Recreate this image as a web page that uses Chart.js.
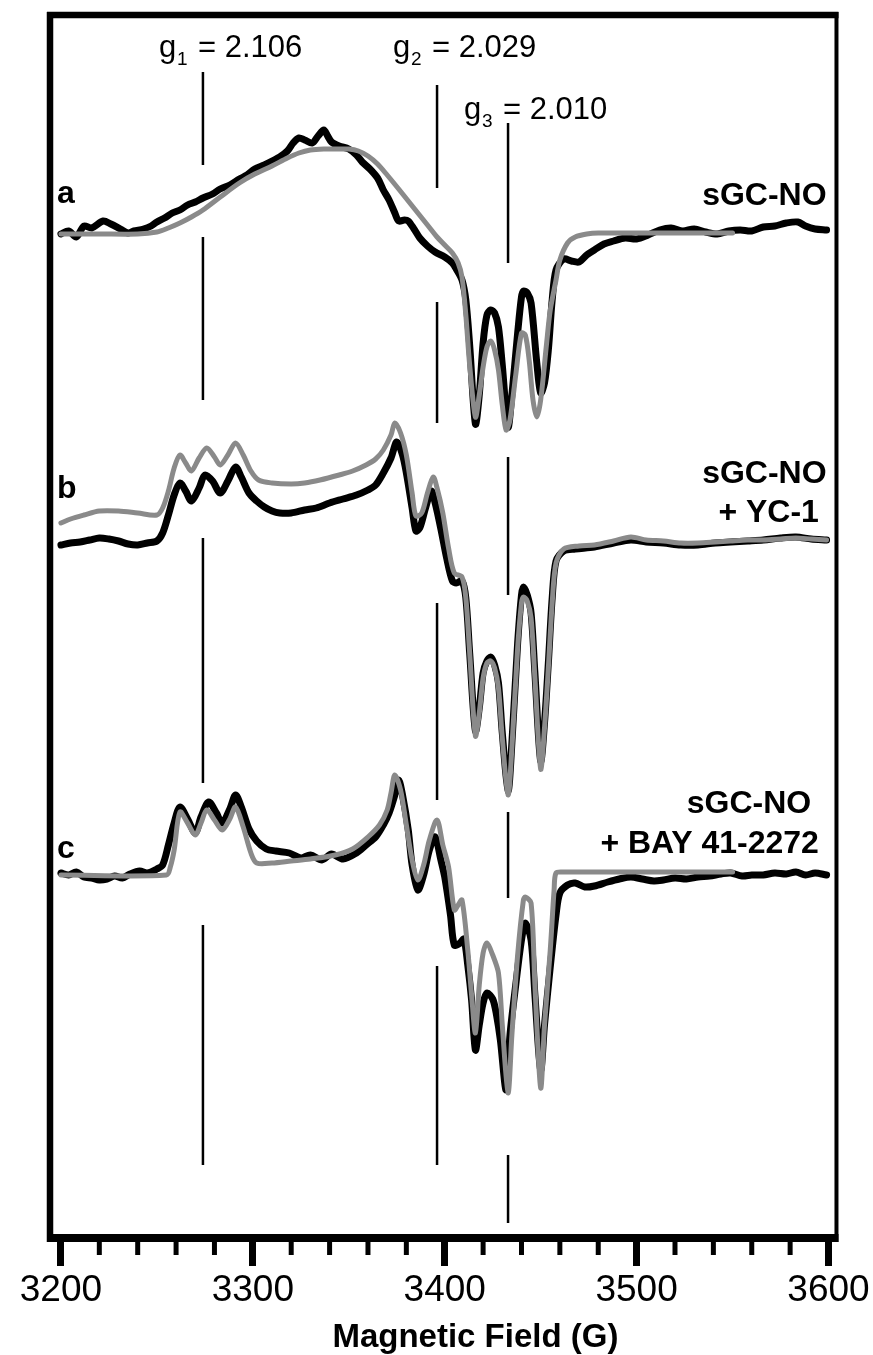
<!DOCTYPE html>
<html>
<head>
<meta charset="utf-8">
<title>EPR spectra of sGC-NO</title>
<script src="https://cdn.jsdelivr.net/npm/chart.js@4.4.1/dist/chart.umd.min.js"></script>
<style>
  html, body { margin: 0; padding: 0; background: #fff; }
  #wrap { width: 873px; height: 1355px; }
</style>
</head>
<body>
<div id="wrap"><canvas id="eprChart" width="873" height="1355"></canvas></div>
<script>
// Values.
// Each pair is [field (G), signal (a.u.) relative to the trace's own baseline].

// a: sGC-NO
const sgcNoExp = [
  [3200, 1], [3204, 4], [3208, -2], [3212, 9], [3216, 7], [3222, 14], [3226, 11], [3231, 6],
  [3235, 2], [3238, 4], [3243, 6], [3247, 9], [3250, 13], [3254, 17], [3258, 22], [3262, 25],
  [3266, 30], [3270, 33], [3274, 37], [3279, 41], [3283, 46], [3288, 50], [3293, 56], [3297, 60],
  [3301, 66], [3306, 70], [3310, 74], [3314, 78], [3318, 84], [3321, 92], [3324, 97], [3327, 95],
  [3331, 92], [3334, 99], [3337, 105], [3339, 99], [3341, 93], [3345, 89], [3350, 86], [3354, 80],
  [3357, 73], [3361, 66], [3365, 57], [3368, 45], [3371, 35], [3374, 22], [3376, 14], [3379, 15],
  [3381, 14], [3384, 6], [3387, -3], [3391, -11], [3395, -17], [3400, -22], [3404, -28], [3406, -34],
  [3409, -45], [3411, -65], [3413, -110], [3416, -189], [3418, -160], [3420, -108], [3422, -80],
  [3424, -75], [3426, -78], [3428, -92], [3430, -130], [3433, -192], [3435, -160], [3438, -98],
  [3440, -62], [3441, -56], [3443, -58], [3445, -68], [3448, -128], [3450, -158], [3452, -148],
  [3454, -115], [3456, -65], [3458, -35], [3462, -24], [3466, -26], [3470, -27], [3474, -20],
  [3478, -15], [3483, -9], [3488, -6], [3494, -3], [3500, -4], [3506, 0], [3512, 5], [3518, 7],
  [3524, 4], [3530, 6], [3536, 3], [3542, 1], [3548, 4], [3554, 5], [3560, 4], [3566, 8],
  [3572, 9], [3578, 12], [3584, 13], [3588, 9], [3593, 6], [3599, 5]
];
const sgcNoSim = [
  [3200, 1], [3220, 1], [3240, 1], [3250, 3], [3256, 7], [3262, 12], [3268, 18], [3274, 25],
  [3283, 38], [3293, 52], [3301, 61], [3310, 69], [3318, 77], [3324, 82], [3330, 85], [3337, 86],
  [3345, 86], [3350, 86], [3355, 84], [3360, 79], [3365, 71], [3370, 60], [3376, 46], [3381, 34],
  [3386, 22], [3391, 10], [3396, -2], [3400, -10], [3404, -18], [3407, -28], [3409, -42],
  [3411, -80], [3413, -130], [3416, -182], [3418, -160], [3420, -132], [3422, -112], [3424, -106],
  [3426, -115], [3428, -135], [3430, -170], [3432, -195], [3434, -185], [3437, -140], [3440, -98],
  [3442, -100], [3444, -125], [3446, -165], [3448, -182], [3450, -165], [3453, -110], [3455, -75],
  [3458, -45], [3460, -25], [3464, -8], [3468, -2], [3474, 1], [3480, 2], [3520, 2], [3550, 2]
];

// b: sGC-NO + YC-1
const yc1Exp = [
  [3200, -2], [3205, 0], [3210, 1], [3215, 3], [3220, 5], [3225, 4], [3230, 2], [3235, -1],
  [3240, -2], [3245, 0], [3250, 2], [3253, 10], [3256, 28], [3259, 48], [3262, 60], [3265, 52],
  [3268, 42], [3272, 55], [3275, 68], [3279, 62], [3283, 50], [3287, 62], [3291, 76], [3294, 66],
  [3298, 50], [3302, 42], [3306, 36], [3310, 32], [3314, 30], [3320, 30], [3327, 33], [3333, 35],
  [3340, 40], [3347, 44], [3354, 48], [3360, 53], [3364, 58], [3368, 70], [3372, 85], [3375, 101],
  [3378, 88], [3380, 70], [3383, 35], [3385, 12], [3387, 15], [3390, 35], [3393, 52], [3395, 40],
  [3398, 14], [3401, -15], [3404, -38], [3406, -40], [3409, -38], [3411, -55], [3413, -110],
  [3416, -188], [3418, -165], [3420, -130], [3422, -118], [3424, -114], [3426, -122], [3428, -140],
  [3430, -190], [3433, -248], [3435, -200], [3438, -100], [3440, -52], [3441, -44], [3443, -52],
  [3445, -70], [3447, -130], [3450, -218], [3452, -180], [3454, -120], [3456, -55], [3458, -18],
  [3462, -8], [3468, -6], [3478, -4], [3488, 0], [3497, 3], [3505, 1], [3514, 0], [3523, -2],
  [3532, -2], [3541, 0], [3549, 1], [3558, 2], [3566, 3], [3575, 5], [3583, 6], [3591, 4], [3599, 3]
];
const yc1Sim = [
  [3200, 20], [3205, 24], [3212, 28], [3220, 32], [3230, 32], [3240, 30], [3250, 28], [3253, 35],
  [3256, 52], [3259, 75], [3262, 88], [3265, 80], [3268, 72], [3272, 85], [3276, 95], [3280, 86],
  [3283, 78], [3287, 88], [3291, 100], [3295, 88], [3299, 72], [3303, 63], [3310, 60], [3320, 59],
  [3327, 60], [3335, 63], [3345, 68], [3352, 72], [3359, 78], [3364, 84], [3368, 93], [3372, 108],
  [3374, 120], [3377, 110], [3380, 88], [3383, 50], [3385, 27], [3388, 30], [3391, 50], [3394, 66],
  [3396, 55], [3399, 30], [3402, -5], [3405, -30], [3409, -34], [3411, -55], [3413, -110],
  [3416, -193], [3418, -170], [3420, -135], [3422, -120], [3424, -118], [3426, -125], [3428, -145],
  [3430, -195], [3433, -252], [3435, -205], [3438, -105], [3440, -60], [3441, -54], [3443, -58],
  [3445, -75], [3447, -135], [3450, -226], [3452, -185], [3454, -125], [3456, -60], [3458, -20],
  [3462, -6], [3470, -3], [3478, -2], [3488, 2], [3497, 6], [3505, 3], [3514, 2], [3523, 0],
  [3532, 0], [3541, 1], [3549, 2], [3558, 3], [3566, 3], [3575, 4], [3583, 5], [3591, 4], [3599, 3]
];

// c: sGC-NO + BAY 41-2272
const bayExp = [
  [3200, 2], [3204, 0], [3208, 3], [3212, -2], [3216, -3], [3220, -5], [3224, -4], [3228, -1],
  [3232, -3], [3236, 1], [3241, 4], [3245, 2], [3250, 6], [3253, 10], [3256, 30], [3259, 52],
  [3262, 68], [3266, 56], [3270, 42], [3273, 58], [3277, 73], [3281, 62], [3284, 52], [3288, 66],
  [3291, 80], [3294, 68], [3298, 46], [3302, 34], [3307, 26], [3312, 24], [3319, 22], [3325, 17],
  [3330, 20], [3336, 15], [3341, 21], [3347, 16], [3354, 22], [3359, 30], [3364, 38], [3368, 50],
  [3371, 62], [3374, 80], [3376, 95], [3378, 80], [3381, 45], [3383, 10], [3386, -15], [3389, 0],
  [3392, 25], [3395, 38], [3398, 15], [3400, -2], [3403, -40], [3405, -70], [3408, -68], [3410, -64],
  [3412, -90], [3414, -125], [3416, -175], [3418, -150], [3420, -128], [3422, -118], [3425, -124],
  [3427, -140], [3429, -165], [3432, -215], [3434, -160], [3437, -110], [3440, -65], [3442, -48],
  [3445, -65], [3447, -120], [3450, -195], [3452, -150], [3455, -92], [3458, -40], [3460, -18],
  [3464, -10], [3468, -8], [3473, -12], [3478, -11], [3485, -7], [3491, -4], [3497, -2], [3503, -4],
  [3509, -6], [3514, -5], [3520, -3], [3526, -4], [3532, -2], [3538, -1], [3544, 1], [3549, 2],
  [3555, -1], [3560, 0], [3566, 0], [3572, 2], [3578, 1], [3583, 3], [3588, 0], [3593, 2], [3599, 0]
];
const baySim = [
  [3200, 0], [3255, 0], [3257, 8], [3259, 25], [3262, 63], [3266, 52], [3270, 40], [3273, 52],
  [3276, 65], [3280, 55], [3284, 45], [3288, 56], [3291, 68], [3295, 48], [3299, 22], [3302, 12],
  [3310, 12], [3320, 14], [3330, 16], [3343, 20], [3352, 26], [3360, 38], [3366, 50], [3370, 65],
  [3372, 82], [3374, 100], [3377, 85], [3380, 50], [3383, 15], [3386, -5], [3389, 10], [3392, 35],
  [3396, 55], [3399, 30], [3402, 8], [3405, -35], [3407, -30], [3409, -25], [3412, -75], [3414, -120],
  [3416, -158], [3418, -110], [3420, -78], [3422, -68], [3425, -80], [3428, -98], [3430, -150],
  [3433, -218], [3435, -160], [3438, -80], [3441, -25], [3442, -22], [3445, -28], [3447, -110],
  [3450, -213], [3452, -150], [3455, -75], [3457, -15], [3458, 2], [3462, 3], [3480, 3], [3520, 3],
  [3550, 3]
];

// vertical offsets of the stacked traces a, b, c (a.u.)
const traceOffsets = [1003, 695, 363];

// axis ticks (G)
const majorTicks = [3200, 3300, 3400, 3500, 3600];
const minorTicks = [3220, 3240, 3260, 3280, 3320, 3340, 3360, 3380,
                    3420, 3440, 3460, 3480, 3520, 3540, 3560, 3580];
const xTitle = 'Magnetic Field (G)';

// g-value markers: field position and the pieces of line drawn between traces (a.u.)
const gValues = ['2.106', '2.029', '2.010'];
const gFields = [3274, 3396, 3433];
const gSegments = [
  [[1166, 1073], [1001, 838], [700, 455], [313, 73]],
  [[1153, 1050], [936, 815], [635, 438], [272, 73]],
  [[1115, 975], [781, 643], [426, 340], [83, 15]]
];

const traceLetters = ['a', 'b', 'c'];
const sampleNames = [['sGC-NO'], ['sGC-NO', '+ YC-1'], ['sGC-NO', '+ BAY 41-2272']];

const FONT = "'Liberation Sans', Arial, Helvetica, sans-serif";
const BLACK = '#000000';
const GREY = '#8a8a8a';

function toPoints(pairs, offset) {
  return pairs.map(p => ({ x: p[0], y: p[1] + offset }));
}

function gLineData(field, segs) {
  const pts = [];
  segs.forEach(s => {
    pts.push({ x: field, y: s[0] }, { x: field, y: s[1] }, { x: field, y: null });
  });
  return pts;
}

const spectra = [
  [sgcNoExp, sgcNoSim],
  [yc1Exp, yc1Sim],
  [bayExp, baySim]
];

const datasets = [];
spectra.forEach((pair, i) => {
  datasets.push({
    label: traceLetters[i] + ' experimental',
    data: toPoints(pair[0], traceOffsets[i]),
    borderColor: BLACK,
    borderWidth: 7,
    borderJoinStyle: 'round',
    borderCapStyle: 'round',
    tension: 0.3,
    pointRadius: 0,
    order: 3
  });
  datasets.push({
    label: traceLetters[i] + ' simulated',
    data: toPoints(pair[1], traceOffsets[i]),
    borderColor: GREY,
    borderWidth: 5,
    borderJoinStyle: 'round',
    borderCapStyle: 'round',
    tension: 0.3,
    pointRadius: 0,
    order: 1
  });
});
gFields.forEach((f, i) => {
  datasets.push({
    label: 'g' + (i + 1),
    data: gLineData(f, gSegments[i]),
    borderColor: BLACK,
    borderWidth: 2.5,
    spanGaps: false,
    pointRadius: 0,
    tension: 0,
    order: 2
  });
});

// minor ticks, frame, axis title and text labels
const decorPlugin = {
  id: 'eprDecor',
  afterDraw(chart) {
    const { ctx, chartArea } = chart;
    const x = chart.scales.x;
    const y = chart.scales.y;
    ctx.save();
    ctx.strokeStyle = BLACK;
    ctx.fillStyle = BLACK;

    // minor ticks
    ctx.lineWidth = 5;
    minorTicks.forEach(v => {
      const px = x.getPixelForValue(v);
      ctx.beginPath();
      ctx.moveTo(px, chartArea.bottom);
      ctx.lineTo(px, chartArea.bottom + 17);
      ctx.stroke();
    });

    // frame
    const L = chartArea.left, R = chartArea.right, T = chartArea.top, B = chartArea.bottom;
    ctx.lineWidth = 6.5;
    ctx.beginPath(); ctx.moveTo(L - 3, T); ctx.lineTo(R + 2, T); ctx.stroke();
    ctx.beginPath(); ctx.moveTo(L, T - 3); ctx.lineTo(L, B + 4); ctx.stroke();
    ctx.lineWidth = 4;
    ctx.beginPath(); ctx.moveTo(R, T - 3); ctx.lineTo(R, B + 4); ctx.stroke();
    ctx.lineWidth = 8;
    ctx.beginPath(); ctx.moveTo(L - 3, B); ctx.lineTo(R + 2, B); ctx.stroke();

    // axis title, sits a little right of centre in the original
    ctx.textAlign = 'center';
    ctx.textBaseline = 'alphabetic';
    ctx.font = 'bold 33px ' + FONT;
    ctx.fillText(xTitle, x.getPixelForValue(3416), 1347);

    // g labels
    const gBase = [1181, 1181, 1119];
    ctx.textAlign = 'left';
    gFields.forEach((f, i) => {
      const px = x.getPixelForValue(f) - 44;
      const py = y.getPixelForValue(gBase[i]);
      ctx.font = '31px ' + FONT;
      ctx.fillText('g', px, py);
      ctx.font = '19px ' + FONT;
      ctx.fillText(String(i + 1), px + 18, py + 8);
      ctx.font = '31px ' + FONT;
      ctx.fillText('= ' + gValues[i], px + 39, py);
    });

    // trace letters
    const letterLift = [32, 45, 17];
    ctx.font = 'bold 32px ' + FONT;
    traceLetters.forEach((t, i) => {
      ctx.fillText(t, x.getPixelForValue(3200) - 4, y.getPixelForValue(traceOffsets[i] + letterLift[i]));
    });

    // sample names, right aligned
    const nameRight = [[3599], [3599, 3595], [3591, 3595]];
    const nameLift = [[30], [60, 21], [62, 22]];
    ctx.textAlign = 'right';
    sampleNames.forEach((lines, i) => {
      lines.forEach((txt, j) => {
        ctx.fillText(txt, x.getPixelForValue(nameRight[i][j]),
                     y.getPixelForValue(traceOffsets[i] + nameLift[i][j]));
      });
    });
    ctx.restore();
  }
};

new Chart(document.getElementById('eprChart'), {
  type: 'line',
  data: { datasets: datasets },
  options: {
    responsive: false,
    animation: false,
    devicePixelRatio: 1,
    layout: { padding: { left: 50, right: 33, top: 15, bottom: 0 } },
    plugins: {
      legend: { display: false },
      tooltip: { enabled: false }
    },
    scales: {
      x: {
        type: 'linear',
        min: 3194.3,
        max: 3604.15,
        afterBuildTicks: scale => {
          scale.ticks = majorTicks.map(v => ({ value: v }));
        },
        afterFit: scale => {
          scale.height = 117;
        },
        border: { display: false },
        grid: {
          drawOnChartArea: false,
          drawTicks: true,
          tickLength: 28,
          tickWidth: 7,
          tickColor: BLACK
        },
        ticks: {
          autoSkip: false,
          maxRotation: 0,
          padding: 3,
          color: BLACK,
          font: { family: FONT, size: 37 },
          callback: v => String(v)
        },
        title: { display: false }
      },
      y: {
        type: 'linear',
        display: false,
        min: 0,
        max: 1223
      }
    }
  },
  plugins: [decorPlugin]
});
</script>
</body>
</html>
